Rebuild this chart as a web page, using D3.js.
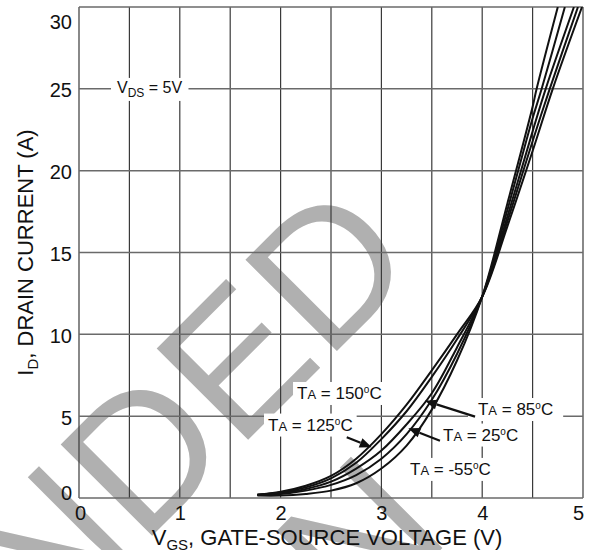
<!DOCTYPE html>
<html>
<head>
<meta charset="utf-8">
<script src="https://cdn.jsdelivr.net/npm/d3@7"></script>
<style>
  html, body { margin: 0; padding: 0; background: #fff; }
  svg { display: block; font-family: "Liberation Sans", Arial, sans-serif; }
</style>
</head>
<body>
<svg id="chart" width="593" height="550"></svg>
<script>
// ---------- data ----------
const vgs = [1.77, 2.0, 2.25, 2.5, 2.75, 3.0, 3.25, 3.5, 3.75, 4.0, 4.25, 4.5];
const seriesNames = ["150", "125", "85", "25", "-55"];
const id150 = [0.20, 0.38, 0.75, 1.35, 2.40, 3.90, 5.70, 7.80, 10.0, 12.3, 16.6, 21.2];
const id125 = [0.20, 0.33, 0.65, 1.20, 2.15, 3.60, 5.30, 7.40, 9.70, 12.3, 16.9, 21.8];
const id85  = [0.20, 0.30, 0.55, 1.00, 1.80, 2.90, 4.50, 6.40, 9.20, 12.3, 17.2, 22.4];
const id25  = [0.18, 0.24, 0.45, 0.80, 1.40, 2.40, 3.90, 6.00, 8.80, 12.3, 17.6, 23.2];
const idM55 = [0.15, 0.15, 0.25, 0.45, 0.90, 1.80, 3.20, 5.40, 8.40, 12.3, 18.0, 23.9];
const vAt25 = [4.70, 4.67, 4.63, 4.59, 4.54];   // VGS where ID = 25 A
const vAt30 = [4.99, 4.95, 4.91, 4.82, 4.75];   // VGS where ID = 30 A
const xTicks = [0, 1, 2, 3, 4, 5];
const yTicks = [0, 5, 10, 15, 20, 25, 30];
const labelTemps = ["150", "125", "85", "25", "-55"];
const labelV = [2.163, 1.875, 3.958, 3.611, 3.284];
const labelI = [6.05, 4.12, 5.07, 3.51, 1.41];
const arrowFromV = [null, 2.656, 3.929, 3.581, null];
const arrowFromI = [null, 3.71, 4.97, 3.50, null];
const arrowToV = [null, 2.904, 3.433, 3.267, null];
const arrowToI = [null, 3.10, 5.94, 4.26, null];

// ---------- layout ----------
const svg = d3.select("#chart");
const L = 79, R = 583, T = 7, B = 498;
const x = d3.scaleLinear().domain([0, 5]).range([L, R]);
const y = d3.scaleLinear().domain([0, 30]).range([B, T]);

// watermark (drawn first, beneath everything)
const wm = svg.append("g").attr("transform", "translate(422,266) rotate(-45)")
  .attr("fill", "#b0b0b0").style("font-family", "Liberation Sans, Arial, sans-serif")
  .style("font-size", "188px");
wm.append("text").attr("text-anchor", "end").attr("x", 0).attr("y", 0).text("NOT RECOMMENDED");
wm.append("text").attr("text-anchor", "middle").attr("x", -1000).attr("y", 214).text("FOR NEW DESIGN");

// grid
const grid = svg.append("g");
grid.selectAll("line.v").data(d3.range(0, 5.01, 0.5)).join("line")
  .attr("x1", d => x(d)).attr("x2", d => x(d)).attr("y1", T).attr("y2", B)
  .attr("stroke", "#3a3a3a").attr("stroke-width", 1.2);
grid.selectAll("line.h").data(yTicks).join("line")
  .attr("x1", L).attr("x2", R).attr("y1", d => y(d)).attr("y2", d => y(d))
  .attr("stroke", "#6a6a6a").attr("stroke-width", 1.5);

// axis tick labels (using d3 axes for positions)
const xAxis = svg.append("g").attr("transform", `translate(0,${B})`)
  .call(d3.axisBottom(x).tickValues(xTicks).tickSize(0).tickPadding(0).tickFormat(d3.format("d")));
xAxis.select(".domain").remove();
xAxis.selectAll("text").attr("fill", "#111").style("font-size", "20px")
  .attr("y", 22).attr("dy", 0)
  .attr("x", d => d === 5 ? -5 : (d === 0 ? 1 : 0));

const yAxis = svg.append("g").attr("transform", `translate(${L},0)`)
  .call(d3.axisLeft(y).tickValues(yTicks).tickSize(0).tickPadding(7).tickFormat(d3.format("d")));
yAxis.select(".domain").remove();
yAxis.selectAll("text").attr("fill", "#111").style("font-size", "20px")
  .attr("dy", d => d === 30 ? "1.05em" : (d === 0 ? "0.05em" : "0.4em"));

// axis titles
const xt = svg.append("text").attr("x", 327).attr("y", 545).attr("text-anchor", "middle")
  .attr("fill", "#111").style("font-size", "22px");
xt.append("tspan").text("V");
xt.append("tspan").attr("dy", 5).style("font-size", "15px").text("GS");
xt.append("tspan").attr("dy", -5).text(", GATE-SOURCE VOLTAGE (V)");

const yt = svg.append("text").attr("transform", `translate(33,${(T + B) / 2}) rotate(-90)`)
  .attr("text-anchor", "middle").attr("fill", "#111").style("font-size", "22px");
yt.append("tspan").text("I");
yt.append("tspan").attr("dy", 5).style("font-size", "15px").text("D");
yt.append("tspan").attr("dy", -5).text(", DRAIN CURRENT (A)");

// curves
const allI = [id150, id125, id85, id25, idM55];
const series = allI.map((arr, k) => {
  const pts = vgs.map((v, i) => [v, arr[i]]);
  pts.push([vAt25[k], 25]);
  pts.push([vAt30[k], 30]);
  return pts;
});
svg.append("clipPath").attr("id", "plotclip").append("rect")
  .attr("x", L).attr("y", T).attr("width", R - L).attr("height", B - T);
const line = d3.line().x(d => x(d[0])).y(d => y(d[1])).curve(d3.curveCatmullRom.alpha(0.5));
svg.append("g").attr("clip-path", "url(#plotclip)")
  .selectAll("path").data(series).join("path")
  .attr("d", line).attr("fill", "none").attr("stroke", "#111").attr("stroke-width", 2);

// V_DS label
const vds = svg.append("g");
const vdsText = vds.append("text").attr("x", x(0.377)).attr("y", y(24.75))
  .attr("fill", "#111").style("font-size", "16px");
vdsText.append("tspan").text("V");
vdsText.append("tspan").attr("dy", 4).style("font-size", "12px").text("DS");
vdsText.append("tspan").attr("dy", -4).text(" = 5V");
{
  const bb = vdsText.node().getBBox();
  vds.insert("rect", "text").attr("x", bb.x - 6).attr("y", bb.y - 1)
    .attr("width", bb.width + 12).attr("height", bb.height + 2).attr("fill", "#fff");
}

// temperature labels
labelTemps.forEach((t, k) => {
  const g = svg.append("g");
  const tx = g.append("text").attr("x", x(labelV[k])).attr("y", y(labelI[k]))
    .attr("fill", "#111").style("font-size", "17px");
  tx.append("tspan").text("T");
  tx.append("tspan").style("font-size", "13px").text("A");
  tx.append("tspan").text(" = " + t);
  tx.append("tspan").attr("dy", -6).style("font-size", "10px").text("o");
  tx.append("tspan").attr("dy", 6).text("C");
  const bb = tx.node().getBBox();
  const padL = k === 2 ? 10 : 4, padR = k === 2 ? 10 : 4;
  g.insert("rect", "text").attr("x", bb.x - padL).attr("y", bb.y - 2)
    .attr("width", bb.width + padL + padR).attr("height", bb.height + 4).attr("fill", "#fff");
});

// arrows
labelTemps.forEach((t, k) => {
  if (arrowFromV[k] === null) return;
  const x1 = x(arrowFromV[k]), y1 = y(arrowFromI[k]);
  const x2 = x(arrowToV[k]), y2 = y(arrowToI[k]);
  const ang = Math.atan2(y2 - y1, x2 - x1);
  const hl = 12, hw = 5;
  const bx = x2 - hl * Math.cos(ang), by = y2 - hl * Math.sin(ang);
  svg.append("line").attr("x1", x1).attr("y1", y1).attr("x2", bx).attr("y2", by)
    .attr("stroke", "#111").attr("stroke-width", 2.2);
  const px = -Math.sin(ang) * hw, py = Math.cos(ang) * hw;
  svg.append("path")
    .attr("d", `M${x2},${y2}L${bx + px},${by + py}L${bx - px},${by - py}Z`)
    .attr("fill", "#111");
});
</script>
</body>
</html>
